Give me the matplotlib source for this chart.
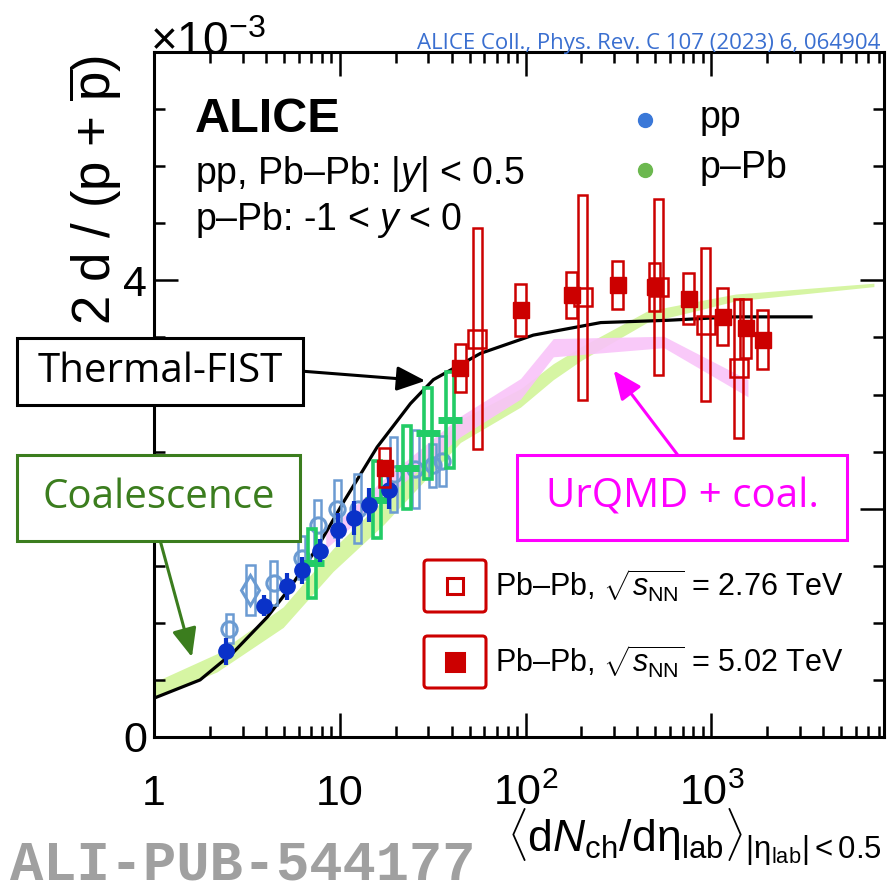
import numpy as np
import matplotlib
matplotlib.use("Agg")
import matplotlib.pyplot as plt
from matplotlib.patches import Rectangle, FancyBboxPatch
from matplotlib.lines import Line2D
from matplotlib.ticker import FixedLocator, FixedFormatter, NullFormatter

plt.rcParams["font.family"] = ["Liberation Sans", "DejaVu Sans"]
plt.rcParams["mathtext.fontset"] = "custom"
plt.rcParams["mathtext.rm"] = "Liberation Sans"
plt.rcParams["mathtext.it"] = "Liberation Sans:italic"
plt.rcParams["mathtext.bf"] = "Liberation Sans:bold"

# ---------------- data (y in units of 1e-3) ----------------
# Thermal-FIST curve
fist_x = [1, 1.77, 2.67, 4.07, 5.41, 7.57, 10.4, 15.9, 24.0, 31.9, 57.2, 110, 254, 583, 1322, 3440]
fist_y = [0.34, 0.50, 0.74, 1.05, 1.31, 1.66, 2.05, 2.54, 2.92, 3.13, 3.36, 3.52, 3.63, 3.65, 3.68, 3.68]

# Coalescence band
coal_x = [1, 2.18, 4.96, 9.2, 17.2, 44.6, 94, 141, 200, 450, 860, 1350, 7500]
coal_lo = [0.34, 0.57, 0.96, 1.45, 1.86, 2.58, 2.89, 3.13, 3.30, 3.63, 3.74, 3.82, 3.945]
coal_hi = [0.48, 0.73, 1.14, 1.65, 2.08, 2.78, 3.05, 3.27, 3.42, 3.73, 3.82, 3.88, 3.975]

# UrQMD + coalescence band
urqmd_x = [8.4, 17, 44.6, 94, 141, 555, 1574]
urqmd_lo = [1.65, 2.08, 2.63, 2.96, 3.33, 3.41, 2.98]
urqmd_hi = [1.79, 2.25, 2.81, 3.14, 3.49, 3.51, 3.13]

# pp (filled)
pp_x = [2.44, 3.93, 5.19, 6.25, 7.8, 9.73, 11.9, 14.3, 18.3]
pp_y = [0.75, 1.15, 1.32, 1.46, 1.63, 1.81, 1.92, 2.03, 2.16]
pp_err = [0.12, 0.09, 0.12, 0.12, 0.10, 0.15, 0.15, 0.15, 0.16]

# pp, other energies (open)
ppo_x = [2.54, 4.40, 6.25, 7.63, 9.67, 12.5, 19.5, 25.5, 31.6, 35.7]
ppo_y = [0.95, 1.35, 1.57, 1.86, 2.00, 2.00, 2.30, 2.35, 2.38, 2.42]
ppo_err = [0.13, 0.19, 0.19, 0.22, 0.25, 0.30, 0.33, 0.34, 0.19, 0.22]
ppd_x = [3.29]
ppd_y = [1.29]
ppd_err = [0.22]

# p-Pb
ppb_x = [7.11, 15.9, 23.1, 30.0, 39.4]
ppb_y = [1.52, 2.08, 2.36, 2.66, 2.78]
ppb_err = [0.30, 0.34, 0.36, 0.40, 0.42]

# Pb-Pb 5.02 TeV
pb5_x = [17.5, 44.6, 94, 177, 313, 496, 757, 1153, 1535, 1896]
pb5_y = [2.36, 3.23, 3.74, 3.87, 3.96, 3.94, 3.84, 3.68, 3.58, 3.48]
pb5_err = [0.17, 0.21, 0.23, 0.20, 0.21, 0.21, 0.22, 0.25, 0.26, 0.26]

# Pb-Pb 2.76 TeV
pb2_x = [55.1, 203, 521, 934, 1407]
pb2_y = [3.49, 3.85, 3.94, 3.61, 3.23]
pb2_err = [0.97, 0.90, 0.77, 0.67, 0.61]

XMIN, XMAX = 1, 8500
YMIN, YMAX = 0, 6

BLUE = "#0a32c8"
LBLUE = "#6b9bd2"
GREEN = "#22cc66"
RED = "#cc0000"
COAL_FILL = "#d6f5a3"
URQMD_FILL = "#f9c3f9"
COAL_C = "#3b7d1e"
MAG = "#ff00ff"

W, H = 891, 893
fig = plt.figure(figsize=(W / 100, H / 100), dpi=100)
ax = fig.add_axes([154 / W, 1 - 737 / H, (884 - 154) / W, (737 - 52) / H])
ax.set_xscale("log")
ax.set_xlim(XMIN, XMAX)
ax.set_ylim(YMIN, YMAX)

def fx(px):
    return px / W

def fy(py):
    return 1 - py / H

dec_px = ax.get_position().width * W / np.log10(XMAX / XMIN)

def vbox(xs, ys, dys, wpx, color, lw, z):
    f = 10 ** (wpx / 2 / dec_px)
    for x, y, dy in zip(xs, ys, dys):
        ax.add_patch(Rectangle((x / f, y - dy), x * f - x / f, 2 * dy, fill=False,
                               ec=color, lw=lw, zorder=z))

# model bands and curve
ax.fill_between(coal_x, coal_lo, coal_hi, color=COAL_FILL, lw=0, zorder=1)
ax.fill_between(urqmd_x, urqmd_lo, urqmd_hi, color=URQMD_FILL, lw=0, zorder=1.5, alpha=0.9)
ax.plot(fist_x, fist_y, color="black", lw=2.3, zorder=3)

# pp open (other energies)
vbox(ppo_x, ppo_y, ppo_err, 7, LBLUE, 1.8, 4)
vbox(ppd_x, ppd_y, ppd_err, 9, LBLUE, 1.8, 4)
ax.plot(ppo_x, ppo_y, "o", mfc="none", mec=LBLUE, mew=2.2, ms=11, zorder=4)
ax.plot(ppd_x, ppd_y, "d", mfc="none", mec=LBLUE, mew=2.2, ms=15, zorder=4)

# pp filled
ax.errorbar(pp_x, pp_y, yerr=pp_err, fmt="o", color=BLUE, ms=11, elinewidth=3,
            capsize=0, zorder=6)

# p-Pb
vbox(ppb_x, ppb_y, ppb_err, 8, GREEN, 2.6, 5)
ax.plot(ppb_x, ppb_y, "_", color=GREEN, ms=17, mew=5, zorder=5)

# Pb-Pb 2.76
vbox(pb2_x, pb2_y, pb2_err, 9, RED, 1.8, 7)
ax.plot(pb2_x, pb2_y, "s", mfc="none", mec=RED, mew=1.8, ms=13, zorder=7)

# Pb-Pb 5.02
vbox(pb5_x, pb5_y, pb5_err, 11, RED, 1.8, 7)
ax.plot(pb5_x, pb5_y, "s", color=RED, ms=11, zorder=7)

# axes styling
for s in ax.spines.values():
    s.set_linewidth(2.2)
ax.xaxis.set_major_locator(FixedLocator([1, 10, 100, 1000]))
ax.xaxis.set_major_formatter(FixedFormatter(["1", "10", "$10^2$", "$10^3$"]))
minors = [m * d for d in [1, 10, 100, 1000] for m in range(2, 10) if m * d < XMAX]
ax.xaxis.set_minor_locator(FixedLocator(minors))
ax.xaxis.set_minor_formatter(NullFormatter())
ax.yaxis.set_major_locator(FixedLocator([0, 2, 4, 6]))
ax.yaxis.set_major_formatter(FixedFormatter(["0", "2", "4", ""]))
ax.yaxis.set_minor_locator(FixedLocator(np.arange(0.5, 6, 0.5)))
ax.tick_params(which="both", direction="in", top=True, right=True, width=1.8)
ax.tick_params(which="major", length=17)
ax.tick_params(which="minor", length=8)
ax.tick_params(axis="x", which="major", labelsize=31, pad=49)
ax.tick_params(axis="y", which="major", labelsize=31, pad=5)
for lbl in ax.get_xticklabels():
    lbl.set_verticalalignment("baseline")

# titles
fig.text(fx(95), fy(55), r"2 d / (p + $\overline{\rm p}$)", rotation=90, ha="center",
         va="top", fontsize=38)
fig.text(fx(882), fy(853),
         r"$\langle {\rm d}N_{\rm ch}/{\rm d\eta}_{\rm lab}\rangle_{|{\rm \eta}_{\rm lab}|<0.5}$",
         ha="right", va="baseline", fontsize=32)
fig.text(fx(150), fy(55), r"$\times10^{-3}$", ha="left", va="baseline", fontsize=33)
fig.text(fx(880), fy(43), "ALICE Coll., Phys. Rev. C 107 (2023) 6, 064904",
         ha="right", va="center", fontsize=16, color="#3a6fd0",
         family=["Liberation Sans Narrow", "Open Sans"])
fig.text(fx(10), fy(880), "ALI-PUB-544177", ha="left", va="baseline", fontsize=40,
         color="#a0a0a0", family="Liberation Mono", weight="bold")

# ALICE labels
fig.text(fx(195), fy(120), "ALICE", ha="left", va="center", fontsize=35, weight="bold")
fig.text(fx(195), fy(174), r"pp, Pb–Pb: $|y|$ < 0.5", ha="left", va="center", fontsize=27)
fig.text(fx(195), fy(220), r"p–Pb: -1 < $y$ < 0", ha="left", va="center", fontsize=27)

# top legend
fig.add_artist(Line2D([fx(645)], [fy(120)], marker="o", ms=10, color="#3a78d8",
                      transform=fig.transFigure))
fig.add_artist(Line2D([fx(645)], [fy(170)], marker="o", ms=10, color="#6cb84f",
                      transform=fig.transFigure))
fig.text(fx(700), fy(118), "pp", ha="left", va="center", fontsize=27)
fig.text(fx(700), fy(168), "p–Pb", ha="left", va="center", fontsize=27)

# Pb-Pb legend
for (top, mfc, lab) in [(560, "none", "2.76"), (636, RED, "5.02")]:
    fig.add_artist(FancyBboxPatch((fx(424), fy(top + 52)), fx(62), 52 / H,
                                  boxstyle="round,pad=0,rounding_size=0.004",
                                  transform=fig.transFigure, fc="white", ec=RED, lw=2.2))
    fig.add_artist(Line2D([fx(455)], [fy(top + 26)], marker="s", ms=12 if mfc == "none" else 13,
                          mfc=mfc, mec=RED, mew=2.2, transform=fig.transFigure))
    fig.text(fx(495), fy(top + 26), r"Pb–Pb, $\sqrt{s_{\rm NN}}$ = " + lab + " TeV",
             ha="left", va="center", fontsize=22)

# annotation boxes
def label_box(x0, y0, x1, y1, text, color):
    fig.add_artist(Rectangle((fx(x0), fy(y1)), (x1 - x0) / W, (y1 - y0) / H,
                             transform=fig.transFigure, fc="white", ec=color, lw=2.2,
                             zorder=10))
    fig.text(fx((x0 + x1) / 2), fy((y0 + y1) / 2), text, ha="center", va="center",
             fontsize=29, color=color, family="Open Sans", zorder=11)

arrow = dict(arrowstyle="-|>,head_length=0.7,head_width=0.3", lw=2.2,
             mutation_scale=25, shrinkA=0, shrinkB=0)
ax.annotate("", xy=(28.9, 3.12), xycoords="data", xytext=(fx(300), fy(371)),
            textcoords="figure fraction", arrowprops=dict(arrow, color="black"))
ax.annotate("", xy=(1.60, 0.70), xycoords="data", xytext=(fx(160), fy(540)),
            textcoords="figure fraction", arrowprops=dict(arrow, color=COAL_C))
ax.annotate("", xy=(298, 3.21), xycoords="data", xytext=(fx(680), fy(458)),
            textcoords="figure fraction", arrowprops=dict(arrow, color=MAG))

label_box(17, 338, 303, 405, "Thermal-FIST", "black")
label_box(17, 455, 300, 541, "Coalescence", COAL_C)
label_box(517, 455, 847, 540, "UrQMD + coal.", MAG)

fig.savefig("out.png", dpi=100)
